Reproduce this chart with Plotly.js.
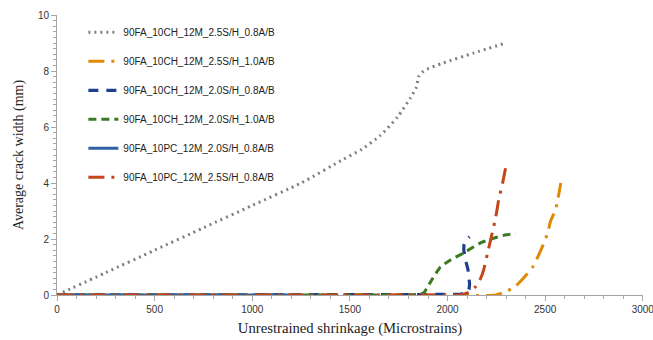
<!DOCTYPE html>
<html>
<head>
<meta charset="utf-8">
<script src="https://cdn.plot.ly/plotly-3.0.1.min.js"></script>
<style>html,body{margin:0;padding:0;background:#fff;}#chart{width:653px;height:340px;}</style>
</head>
<body>
<div id="chart"></div>
<script>
// Series names
const names = [
  "90FA_10CH_12M_2.5S/H_0.8A/B",
  "90FA_10CH_12M_2.5S/H_1.0A/B",
  "90FA_10CH_12M_2.0S/H_0.8A/B",
  "90FA_10CH_12M_2.0S/H_1.0A/B",
  "90FA_10PC_12M_2.0S/H_0.8A/B",
  "90FA_10PC_12M_2.5S/H_0.8A/B"
];

// 90FA_10CH_12M_2.5S/H_0.8A/B
const s1x = [0, 250, 500, 750, 1000, 1250, 1467, 1560, 1656, 1744, 1810, 1841, 1851, 1870, 1887, 1979, 2133, 2297];
const s1y = [0, 0.8, 1.6, 2.4, 3.2, 4.0, 4.85, 5.2, 5.7, 6.36, 7.04, 7.43, 7.79, 7.95, 8.04, 8.29, 8.64, 9.0];

// 90FA_10CH_12M_2.5S/H_1.0A/B
const s2x = [0, 500, 1000, 1500, 2000, 2246, 2300, 2349, 2395, 2436, 2467, 2490, 2512, 2528, 2554, 2580];
const s2y = [0, 0, 0, 0, 0, 0, 0.12, 0.32, 0.65, 1.0, 1.43, 1.8, 2.2, 2.64, 3.07, 4.0];

// 90FA_10CH_12M_2.0S/H_0.8A/B
const s3x = [0, 500, 1000, 1500, 2000, 2060, 2100, 2110, 2113, 2111, 2105, 2096, 2088, 2083, 2084, 2092, 2103, 2113];
const s3y = [0, 0, 0, 0, 0, 0.02, 0.08, 0.2, 0.4, 0.65, 0.9, 1.15, 1.4, 1.6, 1.78, 1.92, 2.02, 2.08];

// 90FA_10CH_12M_2.0S/H_1.0A/B
const s4x = [0, 500, 1000, 1500, 1850, 1877, 1920, 1964, 2015, 2082, 2169, 2256, 2300, 2349];
const s4y = [0, 0, 0, 0, 0.02, 0.07, 0.55, 1.0, 1.25, 1.5, 1.86, 2.07, 2.15, 2.18];

// 90FA_10PC_12M_2.0S/H_0.8A/B
const s5x = [0, 250, 500, 750, 1000, 1246];
const s5y = [0, 0, 0, 0, 0, 0];

// 90FA_10PC_12M_2.5S/H_0.8A/B
const s6x = [0, 500, 1000, 1500, 2000, 2067, 2110, 2144, 2170, 2185, 2205, 2225, 2246, 2262, 2282, 2297];
const s6y = [0, 0, 0, 0, 0, 0, 0.1, 0.3, 0.6, 0.9, 1.5, 2.1, 2.75, 3.4, 4.0, 4.53];

// tick values
const xTicks = [0, 500, 1000, 1500, 2000, 2500, 3000];
const yTicks = [0, 2, 4, 6, 8, 10];

const xs = [s1x, s2x, s3x, s4x, s5x, s6x];
const ys = [s1y, s2y, s3y, s4y, s5y, s6y];
const colors = ["#7f7f7f", "#de8a05", "#1f3e8c", "#3b7a24", "#2e62a5", "#c4461a"];
const dashes = ["2px,4px", "16px,7px,3px,7px", "10px,8px", "8px,5px", "solid", "16px,7px,3px,7px"];
const widths = [3, 3, 3.2, 3, 3, 3];
const shapes = ["spline", "spline", "linear", "spline", "linear", "spline"];

const traces = names.map((n, i) => ({
  type: "scatter",
  mode: "lines",
  name: n,
  legendgroup: "g" + i,
  x: xs[i],
  y: ys[i],
  line: {color: colors[i], width: widths[i], dash: dashes[i], shape: shapes[i], smoothing: 0.6}
}));

const layout = {
  width: 653, height: 340,
  margin: {l: 57, r: 10, t: 15, b: 45},
  paper_bgcolor: "#ffffff",
  plot_bgcolor: "#ffffff",
  showlegend: true,
  legend: {
    x: 0.045, y: 0.99, xanchor: "left", yanchor: "top",
    bgcolor: "rgba(0,0,0,0)",
    font: {family: "Liberation Sans, Arial, sans-serif", size: 10, color: "#222"},
    traceorder: "grouped",
    tracegroupgap: 10,
    itemwidth: 30
  },
  xaxis: {
    range: [0, 3001],
    tickmode: "array", tickvals: xTicks, ticktext: xTicks.map(String),
    ticklabeloverflow: "allow",
    showgrid: false, zeroline: false,
    showline: true, linecolor: "#a6a6a6", linewidth: 1,
    ticks: "outside", ticklen: 5, tickcolor: "#a6a6a6",
    minor: {tickmode: "linear", tick0: 0, dtick: 100, ticks: "outside", ticklen: 3, tickcolor: "#a6a6a6"},
    tickfont: {family: "Liberation Sans, Arial, sans-serif", size: 10, color: "#333"},
    title: {text: "Unrestrained shrinkage (Microstrains)", font: {family: "Liberation Serif, Times New Roman, serif", size: 14.7, color: "#222"}, standoff: 8}
  },
  yaxis: {
    range: [0, 10.001],
    tickmode: "array", tickvals: yTicks, ticktext: yTicks.map(String),
    ticklabeloverflow: "allow",
    showgrid: false, zeroline: false,
    showline: true, linecolor: "#a6a6a6", linewidth: 1,
    ticks: "outside", ticklen: 5, tickcolor: "#a6a6a6",
    minor: {tickmode: "linear", tick0: 0, dtick: 0.2, ticks: "outside", ticklen: 3, tickcolor: "#a6a6a6"},
    tickfont: {family: "Liberation Sans, Arial, sans-serif", size: 10, color: "#333"},
    title: {text: "Average crack width (mm)", font: {family: "Liberation Serif, Times New Roman, serif", size: 14, color: "#222"}, standoff: 10}
  }
};

Plotly.newPlot("chart", traces, layout, {displayModeBar: false, staticPlot: true});
</script>
</body>
</html>
